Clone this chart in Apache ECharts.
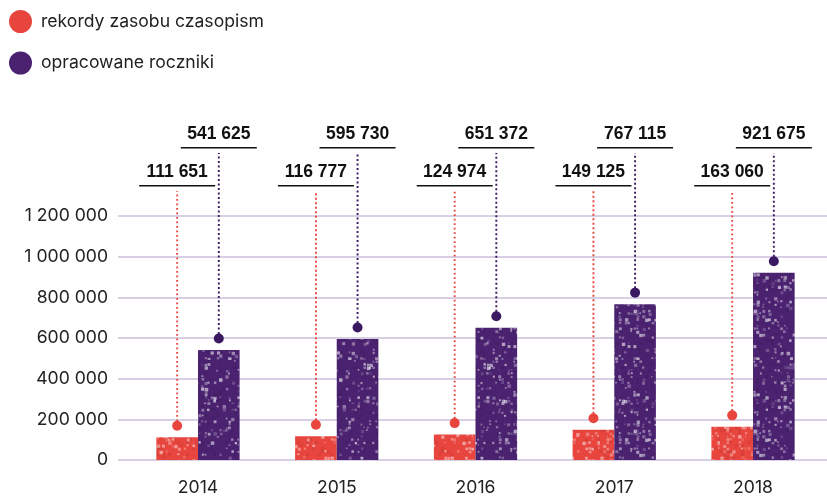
<!DOCTYPE html>
<html>
<head>
<meta charset="utf-8">
<script src="https://cdn.jsdelivr.net/npm/echarts@6/dist/echarts.min.js"></script>
<style>html,body{margin:0;padding:0;background:#fff;}#c{width:827px;height:497px;}</style>
</head>
<body>
<div id="c"></div>
<script>
const years = ['2014', '2015', '2016', '2017', '2018'];
const rekordy = [111651, 116777, 124974, 149125, 163060];
const roczniki = [541625, 595730, 651372, 767115, 921675];
const yTicks = [0, 200000, 400000, 600000, 800000, 1000000, 1200000];
const seriesNames = ['rekordy zasobu czasopism', 'opracowane roczniki'];

const RED = '#e8453e';
const PURPLE = '#4a2270';
const DOT_PURPLE = '#3b1862';

function fmt(v) { return String(v).replace(/\B(?=(\d{3})+(?!\d))/g, ' '); }

function makePattern(base, seed, density, maxAlpha) {
  const size = 120;
  const c = document.createElement('canvas');
  c.width = size; c.height = size;
  const ctx = c.getContext('2d');
  ctx.fillStyle = base;
  ctx.fillRect(0, 0, size, size);
  let s = seed;
  function rnd() { s = (s * 1103515245 + 12345) & 0x7fffffff; return s / 0x7fffffff; }
  for (let y = 0; y < size; y += 3) {
    for (let x = 0; x < size; x += 3) {
      const r = rnd();
      if (r < density) {
        ctx.fillStyle = 'rgba(255,255,255,' + (0.12 + rnd() * maxAlpha).toFixed(2) + ')';
        const w = 1.5 + rnd() * 2;
        ctx.fillRect(x + rnd(), y + rnd(), w, w);
      } else if (r > 0.92) {
        ctx.fillStyle = 'rgba(0,0,0,0.06)';
        ctx.fillRect(x, y, 3, 3);
      }
    }
  }
  return c;
}

const redPat = makePattern(RED, 12345, 0.22, 0.4);
const purplePat = makePattern(PURPLE, 67890, 0.2, 0.5);

function markerSeries(values, side, color, ulY, lineTop, textY) {
  return {
    type: 'custom',
    name: 'marker' + side,
    xAxisIndex: 1,
    yAxisIndex: 1,
    clip: false,
    silent: true,
    z: 5,
    data: values.map((v, i) => [i, v]),
    renderItem: function (params, api) {
      const i = api.value(0), v = api.value(1);
      const p = api.coord([i, v]);
      const band = api.size([1, 0])[0];
      const x = p[0] + side * band * 0.15;
      const dotY = p[1] - 11.5;
      return {
        type: 'group',
        children: [
          { type: 'line', shape: { x1: x, y1: dotY, x2: x, y2: lineTop },
            style: { stroke: color, lineWidth: 1.9, lineDash: [1.9, 2.6] } },
          { type: 'circle', shape: { cx: x, cy: dotY, r: 5 }, style: { fill: color } },
          { type: 'line', shape: { x1: x - 38, y1: ulY, x2: x + 38, y2: ulY },
            style: { stroke: '#111', lineWidth: 1.6 } },
          { type: 'text', style: { text: fmt(v), x: x, y: textY, align: 'center', verticalAlign: 'middle',
              font: 'bold 17.5px "Liberation Sans", Arial, sans-serif', fill: '#111' } }
        ]
      };
    }
  };
}

const chart = echarts.init(document.getElementById('c'), null, { renderer: 'canvas' });
const gridTop = 216.2, gridBottom = 37;
chart.setOption({
  animation: false,
  textStyle: { fontFamily: 'Inter, sans-serif' },
  legend: {
    orient: 'vertical',
    left: 4,
    top: 5,
    icon: 'circle',
    itemWidth: 23,
    itemHeight: 23,
    itemGap: 18.5,
    selectedMode: false,
    textStyle: { fontSize: 17.6, color: '#222', fontFamily: 'Inter, sans-serif', padding: [0, 0, 0, 4] },
    data: [
      { name: seriesNames[0], itemStyle: { color: RED } },
      { name: seriesNames[1], itemStyle: { color: PURPLE } }
    ]
  },
  grid: [
    { left: 118, right: 0, top: gridTop, bottom: gridBottom },
    { left: 128.6, right: 4.6, top: gridTop, bottom: gridBottom }
  ],
  xAxis: [
    { type: 'value', gridIndex: 0, show: false, min: 0, max: 1 },
    { type: 'category', gridIndex: 1, data: years,
      axisLine: { show: false }, axisTick: { show: false },
      axisLabel: { fontSize: 17.6, color: '#222', margin: 19, fontFamily: 'Inter, sans-serif' } }
  ],
  yAxis: [
    { type: 'value', gridIndex: 0, min: yTicks[0], max: yTicks[yTicks.length - 1], interval: 200000,
      axisLine: { show: false }, axisTick: { show: false },
      axisLabel: { fontSize: 17.6, color: '#222', margin: 10, formatter: v => fmt(v), fontFamily: 'Inter, sans-serif' },
      splitLine: { lineStyle: { color: '#cbbfdc', width: 1.5 } } },
    { type: 'value', gridIndex: 1, min: yTicks[0], max: yTicks[yTicks.length - 1], interval: 200000,
      show: false, splitLine: { show: false } }
  ],
  series: [
    { type: 'bar', name: seriesNames[0], xAxisIndex: 1, yAxisIndex: 1, data: rekordy,
      barWidth: '30%', barGap: '0%', itemStyle: { color: { image: redPat, repeat: 'repeat' } }, z: 3 },
    { type: 'bar', name: seriesNames[1], xAxisIndex: 1, yAxisIndex: 1, data: roczniki,
      barWidth: '30%', barGap: '0%', itemStyle: { color: { image: purplePat, repeat: 'repeat' } }, z: 3 },
    markerSeries(rekordy, -1, RED, 185.7, 191, 172),
    markerSeries(roczniki, 1, DOT_PURPLE, 147.7, 153, 134)
  ]
});
</script>
</body>
</html>
